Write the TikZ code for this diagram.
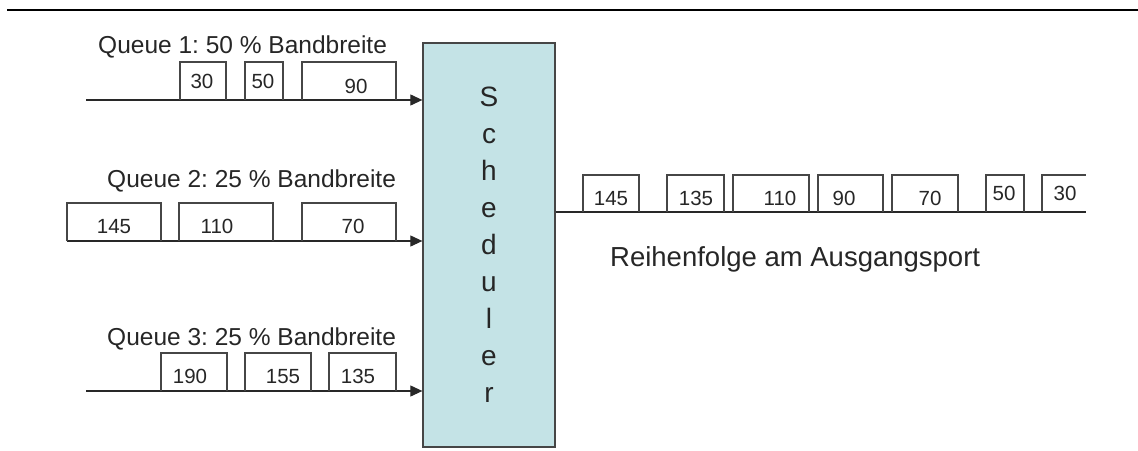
\documentclass[tikz,border=0pt]{standalone}
\usepackage{fontspec}
\setmainfont{Liberation Sans}
\usetikzlibrary{arrows.meta}
\definecolor{schedfill}{RGB}{196,227,230}
\definecolor{edgegray}{RGB}{70,70,70}
\definecolor{linegray}{RGB}{40,40,40}
\newcommand{\pkt}[4]{\draw[pktline] (#1,#4) -- (#1,#3) -- (#2,#3) -- (#2,#4);}
\frenchspacing
\begin{document}
\frenchspacing
\begin{tikzpicture}[x=1pt,y=-1pt,
  pktline/.style={draw=edgegray, line width=1.1pt},
  flow/.style={draw=linegray, line width=1.1pt, -{Triangle[length=12pt,width=11pt]}},
  plain/.style={draw=linegray, line width=1.1pt},
  num/.style={font=\fontsize{20.5}{24}\selectfont, anchor=base, inner sep=0pt, text=black!85},
  qlabel/.style={font=\fontsize{24.5}{29}\selectfont, anchor=base west, inner sep=0pt, text=black!85},
  letter/.style={font=\fontsize{28}{34}\selectfont, anchor=base, inner sep=0pt, text=black!85},
  schedbox/.style={draw=edgegray, line width=1.3pt, fill=schedfill, minimum width=132pt, minimum height=404pt, inner sep=0pt}
]
\useasboundingbox (0,0) rectangle (1138,450);

% top rule
\coordinate (ruleL) at (7,10);
\coordinate (ruleR) at (1138,10);
\draw[line width=2.6pt, black] (ruleL) -- (ruleR);

% scheduler
\node[schedbox] (sched) at (489,245) {};
\foreach \ch [count=\i from 0] in {S,c,h,e,d,u,l,e,r}
  \node[letter] (L\i) at (489,106+37*\i) {\ch};

% queue 1
\node[qlabel] (q1lab) at (98,53) {Queue 1: 50 \% Bandbreite};
\coordinate (q1s) at (86,100);
\draw[flow] (q1s) -- (sched.west |- q1s);
\pkt{180}{226}{62}{100}
\pkt{245}{283}{62}{100}
\pkt{302}{396}{62}{100}
\node[num] (q1a) at (202,88) {30};
\node[num] (q1b) at (263,88) {50};
\node[num] (q1c) at (356,93) {90};

% queue 2
\node[qlabel] (q2lab) at (107,187) {Queue 2: 25 \% Bandbreite};
\coordinate (q2s) at (67,241);
\draw[flow] (q2s) -- (sched.west |- q2s);
\pkt{67}{161}{203}{241}
\pkt{179}{273}{203}{241}
\pkt{302}{396}{203}{241}
\node[num] (q2a) at (114,233) {145};
\node[num] (q2b) at (217,233) {110};
\node[num] (q2c) at (353,233) {70};

% queue 3
\node[qlabel] (q3lab) at (107,345) {Queue 3: 25 \% Bandbreite};
\coordinate (q3s) at (86,391);
\draw[flow] (q3s) -- (sched.west |- q3s);
\pkt{161}{227}{353}{391}
\pkt{245}{311}{353}{391}
\pkt{329}{396}{353}{391}
\node[num] (q3a) at (190,383) {190};
\node[num] (q3b) at (283,383) {155};
\node[num] (q3c) at (358,383) {135};

% output
\coordinate (outE) at (1086,212);
\draw[plain] (sched.east |- outE) -- (outE);
\pkt{583}{639}{175}{212}
\pkt{667}{724}{175}{212}
\pkt{733}{809}{175}{212}
\pkt{818}{883}{175}{212}
\pkt{892}{958}{175}{212}
\pkt{986}{1024}{175}{212}
\draw[pktline] (1042,212) -- (1042,175) -- (1086,175);
\node[num] (o1) at (611,205) {145};
\node[num] (o2) at (696,205) {135};
\node[num] (o3) at (780,205) {110};
\node[num] (o4) at (844,205) {90};
\node[num] (o5) at (930,205) {70};
\node[num] (o6) at (1004,200) {50};
\node[num] (o7) at (1065,200) {30};
\node[qlabel, font=\fontsize{27.5}{32}\selectfont] (outlab) at (610,266) {Reihenfolge am Ausgangsport};
\end{tikzpicture}
\end{document}
